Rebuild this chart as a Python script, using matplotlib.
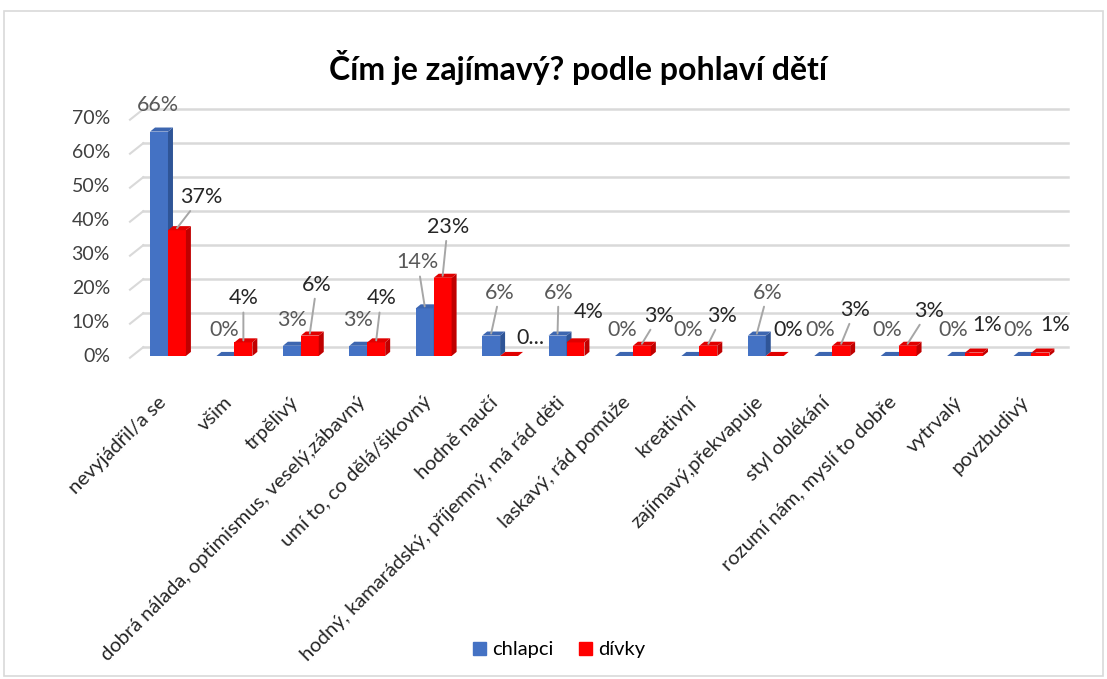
import matplotlib
matplotlib.use('Agg')
import matplotlib.pyplot as plt
from matplotlib.patches import Polygon, Rectangle
from matplotlib.transforms import ScaledTranslation

plt.rcParams['font.family'] = ['Lato', 'DejaVu Sans']

categories = ['nevyjádřil/a se', 'všim', 'trpělivý',
              'dobrá nálada, optimismus, veselý,zábavný',
              'umí to, co dělá/šikovný', 'hodně naučí',
              'hodný, kamarádský, příjemný, má rád děti',
              'laskavý, rád pomůže', 'kreativní', 'zajímavý,překvapuje',
              'styl oblékání', 'rozumí nám, myslí to dobře', 'vytrvalý',
              'povzbudivý']
chlapci = [66, 0, 3, 3, 14, 6, 6, 0, 0, 6, 0, 0, 0, 0]
divky = [37, 4, 6, 4, 23, 0, 4, 3, 3, 0, 3, 3, 1, 1]
divky_labels = ['37%', '4%', '6%', '4%', '23%', '0...', '4%', '3%', '3%',
                '0%', '3%', '3%', '1%', '1%']
yticks = [0, 10, 20, 30, 40, 50, 60, 70]

# label offsets in pixels (dx, dy, leader line?)
blue_off = [(-1, 25, 0), (-1, 24, 0), (0, 24, 0), (0, 24, 0), (-7, 44, 1),
            (9, 41, 1), (1, 41, 1), (-2, 24, 0), (-2, 24, 0), (11, 41, 1),
            (-3, 24, 0), (-2, 24, 0), (-3, 24, 0), (-4, 24, 0)]
red_off = [(24, 31, 1), (0, 42, 1), (7, 49, 1), (5, 42, 1), (5, 49, 1),
           (21, 16, 0), (13, 28, 0), (17, 28, 1), (14, 28, 1), (13, 24, 0),
           (14, 34, 1), (21, 33, 1), (13, 26, 0), (15, 26, 0)]

fig = plt.figure(figsize=(11.07, 6.79), dpi=100)
fig.patches.append(Rectangle((0.004, 0.004), 0.992, 0.98, transform=fig.transFigure,
                             fill=False, edgecolor='#d9d9d9', lw=1.2))
ax = fig.add_axes([130 / 1107, (679 - 356) / 679, 938 / 1107, 238 / 679])
ax.set_xlim(-0.572, 13.55)
ax.set_ylim(0, 70)
for s in ax.spines.values():
    s.set_visible(False)

w = 0.27
dx, dy = 0.075, 1.2      # bar depth
gx, gy = 0.2, 2.6        # back wall offset
x0, x1 = ax.get_xlim()
for t in yticks:
    ax.plot([x0 + gx, x1], [t + gy, t + gy], color='#d9d9d9', lw=1.8, zorder=0, clip_on=False)
    ax.plot([x0, x0 + gx], [t - 0.5, t + gy], color='#d9d9d9', lw=1.5, zorder=0, clip_on=False)


def bar3d(x, v, front, side, top):
    ax.bar(x, v, width=w, color=front, zorder=2, linewidth=0)
    l, r = x - w / 2, x + w / 2
    ax.add_patch(Polygon([(r, 0), (r + dx, dy), (r + dx, v + dy), (r, v)],
                         closed=True, color=side, lw=0, zorder=2))
    ax.add_patch(Polygon([(l, v), (l + dx, v + dy), (r + dx, v + dy), (r, v)],
                         closed=True, color=top, lw=0, zorder=2))


for i in range(len(categories)):
    xb = i - w / 2
    xr = i + w / 2
    bar3d(xb, chlapci[i], '#4472C4', '#2F5597', '#3D66B0')
    bar3d(xr, divky[i], '#FF0000', '#C00000', '#E00000')

    ox, oy, lead = blue_off[i]
    ax.annotate('%d%%' % chlapci[i], xy=(xb, chlapci[i] + 0.6), xytext=(ox, oy),
                textcoords='offset pixels', ha='center', va='center',
                fontsize=15.5, color='#595959', zorder=5,
                arrowprops=dict(arrowstyle='-', color='#a6a6a6', lw=1.4,
                                shrinkA=1, shrinkB=0) if lead else None)
    ox, oy, lead = red_off[i]
    ax.annotate(divky_labels[i], xy=(xr, divky[i] + 0.6), xytext=(ox, oy),
                textcoords='offset pixels', ha='center', va='center',
                fontsize=15.5, color='#262626', zorder=5,
                arrowprops=dict(arrowstyle='-', color='#a6a6a6', lw=1.4,
                                shrinkA=1, shrinkB=0) if lead else None)

ax.set_yticks([])
for t in yticks:
    ax.annotate('%d%%' % t, xy=(0, t), xycoords=('axes fraction', 'data'),
                xytext=(-20, 0), textcoords='offset pixels', ha='right',
                va='center', fontsize=14, color='#404040')
ax.set_xticks(range(len(categories)))
ax.set_xticklabels(categories, rotation=45, ha='right', va='center',
                   rotation_mode='anchor', fontsize=14.5, color='#262626')
ax.tick_params(axis='x', length=0, pad=27)
shift = ScaledTranslation(-0.05, -0.06, fig.dpi_scale_trans)
for lbl in ax.get_xticklabels():
    lbl.set_transform(lbl.get_transform() + shift)

fig.text(0.522, 0.9, 'Čím je zajímavý? podle pohlaví dětí', ha='center',
         va='center', fontsize=23, fontweight='bold', color='#000000')

h1 = Rectangle((0, 0), 1, 1, color='#4472C4')
h2 = Rectangle((0, 0), 1, 1, color='#FF0000')
fig.legend([h1, h2], ['chlapci', 'dívky'], loc='center', bbox_to_anchor=(0.505, 0.043),
           ncol=2, frameon=False, fontsize=14.5, handlelength=0.65, handleheight=0.65,
           handletextpad=0.3, columnspacing=1.3)

fig.savefig('out.png', dpi=100)
